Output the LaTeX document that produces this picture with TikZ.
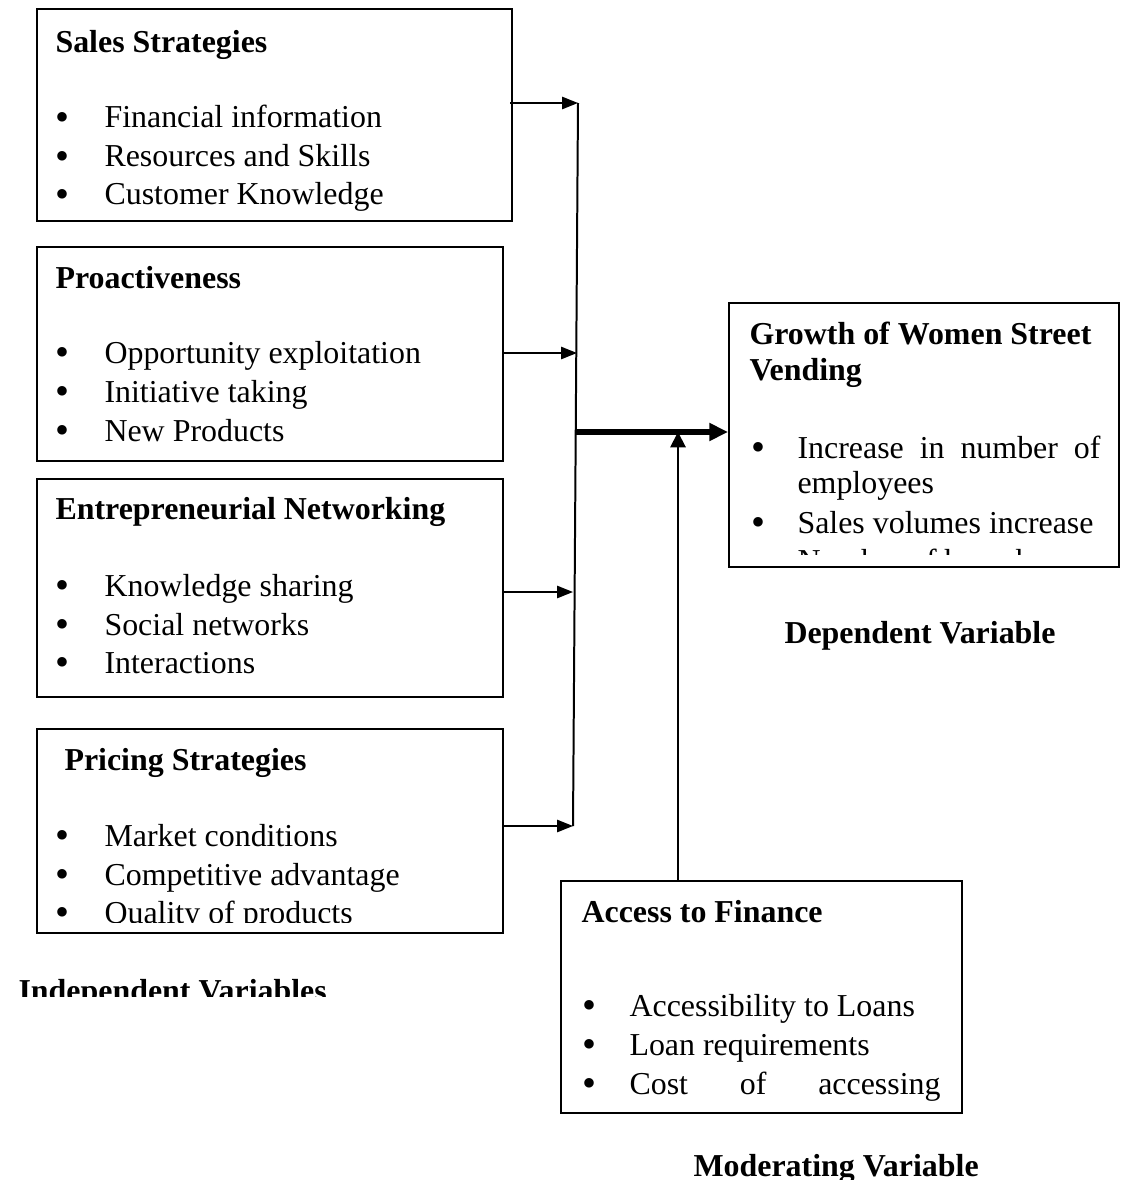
\documentclass[tikz,border=0pt]{standalone}
\usepackage{fontspec}
\setmainfont{Liberation Serif}
\usetikzlibrary{arrows.meta}
\newlength\pxu
\setlength\pxu{0.376pt}

\tikzset{
  varbox/.style={draw, line width=0.75pt, inner sep=0pt, anchor=north west},
  head/.style={anchor=base west, inner sep=0pt, font=\fontsize{12}{14}\selectfont\bfseries},
  bul/.style={anchor=base, inner sep=0pt, yshift=-1pt, font=\fontsize{15}{14}\selectfont},
  itm/.style={anchor=base west, inner sep=0pt, font=\fontsize{12}{14}\selectfont},
  feed/.style={line width=0.75pt, -{Triangle[length=6pt,width=4.6pt]}},
  modarr/.style={line width=0.75pt, -{Triangle[length=5.8pt,width=5.8pt]}},
  mainarr/.style={line width=1.9pt, -{Triangle[length=7pt,width=6.4pt]}},
}

\begin{document}
\begin{tikzpicture}[x=\pxu, y=-\pxu]
\useasboundingbox (0,0) rectangle (1123,1180);

% boxes
\node[varbox, minimum width=475\pxu, minimum height=212\pxu] (sales) at (36,8) {};
\node[varbox, minimum width=466\pxu, minimum height=214\pxu] (proact) at (36,246) {};
\node[varbox, minimum width=466\pxu, minimum height=218\pxu] (network) at (36,478) {};
\node[varbox, minimum width=466\pxu, minimum height=204\pxu] (pricing) at (36,728) {};
\node[varbox, minimum width=390\pxu, minimum height=264\pxu] (growth) at (728,302) {};
\node[varbox, minimum width=401\pxu, minimum height=232\pxu] (access) at (560,880) {};

% independent variables
\node[head] (salest) at (55,53) {Sales Strategies};
\foreach \txt/\yy [count=\i] in {Financial information/128, Resources and Skills/167, Customer Knowledge/205}
  {\node[bul] (salesb\i) at (62,\yy) {\textbullet};
   \node[itm] (salesi\i) at (104,\yy) {\txt};}

\node[head] (proactt) at (55,288) {Proactiveness};
\foreach \txt/\yy [count=\i] in {Opportunity exploitation/363, Initiative taking/402, New Products/441}
  {\node[bul] (proactb\i) at (62,\yy) {\textbullet};
   \node[itm] (proacti\i) at (104,\yy) {\txt};}

\node[head] (networkt) at (55,519) {Entrepreneurial Networking};
\foreach \txt/\yy [count=\i] in {Knowledge sharing/596, Social networks/635, Interactions/673}
  {\node[bul] (networkb\i) at (62,\yy) {\textbullet};
   \node[itm] (networki\i) at (104,\yy) {\txt};}

\node[head] (pricingt) at (64,770) {Pricing Strategies};
\begin{scope}
\clip (36,728) rectangle (502,922);
\foreach \txt/\yy [count=\i] in {Market conditions/846, Competitive advantage/885, Quality of products/923}
  {\node[bul] (pricingb\i) at (62,\yy) {\textbullet};
   \node[itm] (pricingi\i) at (104,\yy) {\txt};}
\end{scope}

% dependent variable
\node[head] (growtht1) at (749,344) {Growth of Women Street};
\node[head] (growtht2) at (749,380) {Vending};
\begin{scope}
\clip (728,302) rectangle (1118,554);
\node[bul] (growthb1) at (758,458) {\textbullet};
\node[itm] (growthi1) at (797,458) {\makebox[303\pxu][s]{Increase in number of}};
\node[itm] (growthi1b) at (797,493) {employees};
\node[bul] (growthb2) at (758,533) {\textbullet};
\node[itm] (growthi2) at (797,533) {Sales volumes increase};
\node[bul] (growthb3) at (758,571) {\textbullet};
\node[itm] (growthi3) at (797,571) {Number of branches};
\end{scope}

% moderating variable
\node[head] (accesst) at (581,922) {Access to Finance};
\foreach \txt/\yy [count=\i] in {Accessibility to Loans/1016, Loan requirements/1055}
  {\node[bul] (accessb\i) at (589,\yy) {\textbullet};
   \node[itm] (accessi\i) at (629,\yy) {\txt};}
\node[bul] (accessb3) at (589,1094) {\textbullet};
\node[itm] (accessi3) at (629,1094) {\makebox[311\pxu][s]{Cost of accessing}};

% captions
\node[head, anchor=base] (deplabel) at (920,643) {Dependent Variable};
\begin{scope}
\clip (0,950) rectangle (600,996);
\node[head] (indeplabel) at (18,1001) {Independent Variables};
\end{scope}
\node[head] (modlabel) at (693,1176) {Moderating Variable};

% connectors
\coordinate (bus1) at (578,103);
\coordinate (bus2) at (577,353);
\coordinate (bus3) at (573,592);
\coordinate (bus4) at (573,826);
\coordinate (join) at (576,432);
\coordinate (modin) at (678,432);
\draw[line width=0.75pt] (bus1) -- (bus4);
\draw[feed] ([xshift=-1pt]sales.east |- bus1) -- (bus1);
\draw[feed] (proact.east |- bus2) -- (bus2);
\draw[feed] (network.east |- bus3) -- (bus3);
\draw[feed] (pricing.east |- bus4) -- (bus4);
\draw[mainarr] (join) -- (growth.west |- join);
\draw[modarr] (access.north -| modin) -- (modin);
\end{tikzpicture}
\end{document}
